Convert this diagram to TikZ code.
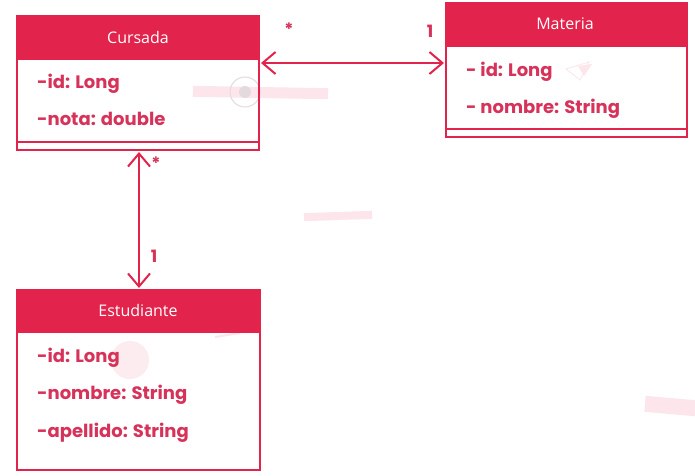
\documentclass[tikz,border=0pt]{standalone}
\usepackage{fontspec}
\setmainfont{Poppins}
\newfontfamily\headfont{Open Sans}
\usetikzlibrary{arrows.meta,calc}
\definecolor{umlred}{HTML}{E2234B}
\definecolor{umltext}{HTML}{D7325A}
\definecolor{decopink}{HTML}{FCE6EB}
\definecolor{decogray}{HTML}{E4DADE}
\tikzset{
  x=1pt,y=-1pt,
  frame/.style={draw=umlred, line width=1.4pt},
  header/.style={fill=umlred, draw=umlred, line width=1.4pt},
  headtext/.style={text=white, font=\headfont\fontsize{16}{16}\selectfont, inner sep=0pt},
  attr/.style={text=umltext, font=\bfseries\fontsize{18}{18}\selectfont, anchor=base west, inner sep=0pt},
  mult/.style={text=umltext, font=\bfseries\fontsize{17}{17}\selectfont, inner sep=0pt},
  assoc/.style={draw=umlred, line width=2pt, {Straight Barb[length=13pt,width=22pt]}-{Straight Barb[length=13pt,width=22pt]}},
}
\begin{document}
\begin{tikzpicture}
\useasboundingbox[fill=white] (0,0) rectangle (695,475);
% faint background decorations
\fill[decopink, rotate around={-1:(260,92)}] (193,87) rectangle (328,98);
\draw[decogray, line width=1pt] (245,92) circle (15);
\fill[decogray] (245,92) circle (6);
\fill[decopink, rotate around={2:(338,216)}] (304,212) rectangle (372,220);
\fill[decopink, rotate around={-5:(670,405)}] (645,398) rectangle (700,414);
\fill[decopink, opacity=0.8] (130,360) circle (19);
\draw[decopink, line width=0.8pt] (566,69) -- (589,62) -- (580,80) -- cycle;
\fill[decopink] (578,66) -- (592,64) -- (584,76) -- cycle;
\draw[decopink, line width=2pt] (215,337) -- (240,333);

% Cursada
\filldraw[header] (17,16) rectangle (259,59);
\draw[frame] (17,59) -- (17,150) -- (259,150) -- (259,59);
\draw[frame] (17,142) -- (259,142);
\node[headtext] (cursadaT) at (138,37) {Cursada};
\node[attr] (c1) at (37,88) {-id: Long};
\node[attr] (c2) at (37,125) {-nota: double};
\coordinate (cursadaR) at (259,63);
\coordinate (cursadaB) at (139,150);

% Materia
\filldraw[header] (446,3) rectangle (687,46);
\draw[frame] (446,46) -- (446,137) -- (687,137) -- (687,46);
\draw[frame] (446,129) -- (687,129);
\node[headtext] (materiaT) at (565,24) {Materia};
\node[attr] (m1) at (466,76) {- id: Long};
\node[attr] (m2) at (466,113) {- nombre: String};
\coordinate (materiaL) at (446,63);

% Estudiante
\filldraw[header] (17,290) rectangle (260,332);
\draw[frame] (17,332) -- (17,470) -- (260,470) -- (260,332);
\node[headtext] (estT) at (138,310) {Estudiante};
\node[attr] (e1) at (37,362) {-id: Long};
\node[attr] (e2) at (37,399) {-nombre: String};
\node[attr] (e3) at (37,437) {-apellido: String};
\coordinate (estT0) at (139,290);

% associations
\draw[assoc] ($(cursadaR)+(2,0)$) -- ($(materiaL)+(-2,0)$);
\draw[assoc] ($(cursadaB)+(0,2)$) -- ($(estT0)+(0,-2)$);
\node[mult] (s1) at (289,29) {*};
\node[mult] (o1) at (430,31) {1};
\node[mult] (s2) at (156,163) {*};
\node[mult] (o2) at (154,256) {1};
\end{tikzpicture}
\end{document}
